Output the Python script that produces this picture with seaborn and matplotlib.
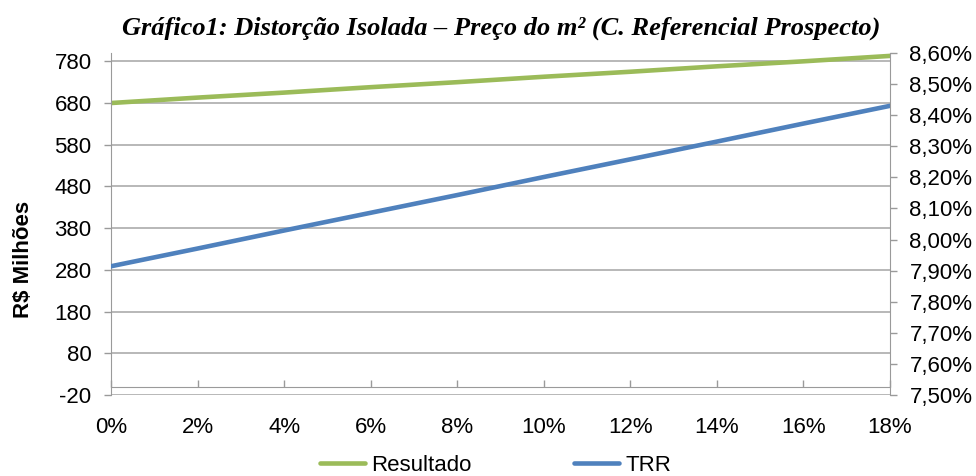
import numpy as np
import pandas as pd
import matplotlib
matplotlib.use('Agg')
import matplotlib.pyplot as plt
import seaborn as sns

# Dados
distorcao = [0, 2, 4, 6, 8, 10, 12, 14, 16, 18]
resultado = [680, 693, 705, 718, 730, 743, 755, 768, 780, 793]
trr = [7.914, 7.971, 8.029, 8.086, 8.143, 8.201, 8.258, 8.315, 8.373, 8.430]

left_ticks = [-20, 80, 180, 280, 380, 480, 580, 680, 780]
right_ticks = [7.5, 7.6, 7.7, 7.8, 7.9, 8.0, 8.1, 8.2, 8.3, 8.4, 8.5, 8.6]
right_labels = ['7,50%', '7,60%', '7,70%', '7,80%', '7,90%', '8,00%',
                '8,10%', '8,20%', '8,30%', '8,40%', '8,50%', '8,60%']
x_labels = ['0%', '2%', '4%', '6%', '8%', '10%', '12%', '14%', '16%', '18%']

df = pd.DataFrame({'distorcao': distorcao, 'resultado': resultado, 'trr': trr})

sns.set_style('white')
plt.rcParams['font.family'] = ['Liberation Sans', 'DejaVu Sans']
plt.rcParams['axes.unicode_minus'] = False
plt.rcParams['text.color'] = 'black'

verde = '#9BBB59'
azul = '#4F81BD'
cinza = '#9a9a9a'
fs = 16

fig = plt.figure(figsize=(9.76, 4.76), dpi=100)
ax = fig.add_axes([0.1137, 0.1702, 0.7982, 0.7185])
ax2 = ax.twinx()

sns.lineplot(data=df, x='distorcao', y='resultado', ax=ax, color=verde, linewidth=3.3, legend=False)
sns.lineplot(data=df, x='distorcao', y='trr', ax=ax2, color=azul, linewidth=3.3, legend=False)

# Eixo esquerdo
ax.set_xlim(0, 18)
ax.set_ylim(-20, 800)
ax.set_yticks(left_ticks)
ax.set_xticks(distorcao)
ax.set_xticklabels(x_labels)
ax.set_xlabel('')
ax.set_ylabel('')
ax.grid(axis='y', color='#ababab', linewidth=1.2)
ax.set_axisbelow(True)
ax.spines['top'].set_visible(False)
ax.spines['right'].set_visible(False)
ax.spines['bottom'].set_position(('data', 0))
ax.spines['left'].set_color(cinza)
ax.spines['bottom'].set_color(cinza)
ax.tick_params(axis='y', direction='out', length=5, width=1, color=cinza, pad=9, labelsize=fs,
               labelcolor='black', left=True)
ax.tick_params(axis='x', direction='in', length=5, width=1, color=cinza, pad=22, labelsize=fs,
               labelcolor='black', bottom=True)

# Eixo direito
ax2.set_ylim(7.5, 8.6)
ax2.set_yticks(right_ticks)
ax2.set_yticklabels(right_labels)
ax2.set_ylabel('')
for s in ['top', 'left', 'bottom']:
    ax2.spines[s].set_visible(False)
ax2.spines['right'].set_color(cinza)
ax2.tick_params(axis='y', direction='out', length=5, width=1, color=cinza, pad=9, labelsize=fs,
                labelcolor='black', right=True)
ax2.grid(False)

fig.text(0.0245, 0.454, 'R$ Milhões', rotation=90, ha='center', va='center',
         fontsize=16, fontweight='bold')
fig.text(0.513, 0.9265, 'Gráfico1: Distorção Isolada – Preço do m² (C. Referencial Prospecto)',
         ha='center', va='baseline', fontsize=19, fontweight='bold', fontstyle='italic',
         family=['Liberation Serif', 'DejaVu Serif'])

handles = [ax.get_lines()[0], ax2.get_lines()[0]]
fig.legend(handles, ['Resultado', 'TRR'], loc='center', bbox_to_anchor=(0.508, 0.022),
           ncol=2, frameon=False, fontsize=fs, handlelength=2.0, columnspacing=4.6,
           handletextpad=0.3, labelcolor='black')

fig.savefig('out.png', dpi=100)
